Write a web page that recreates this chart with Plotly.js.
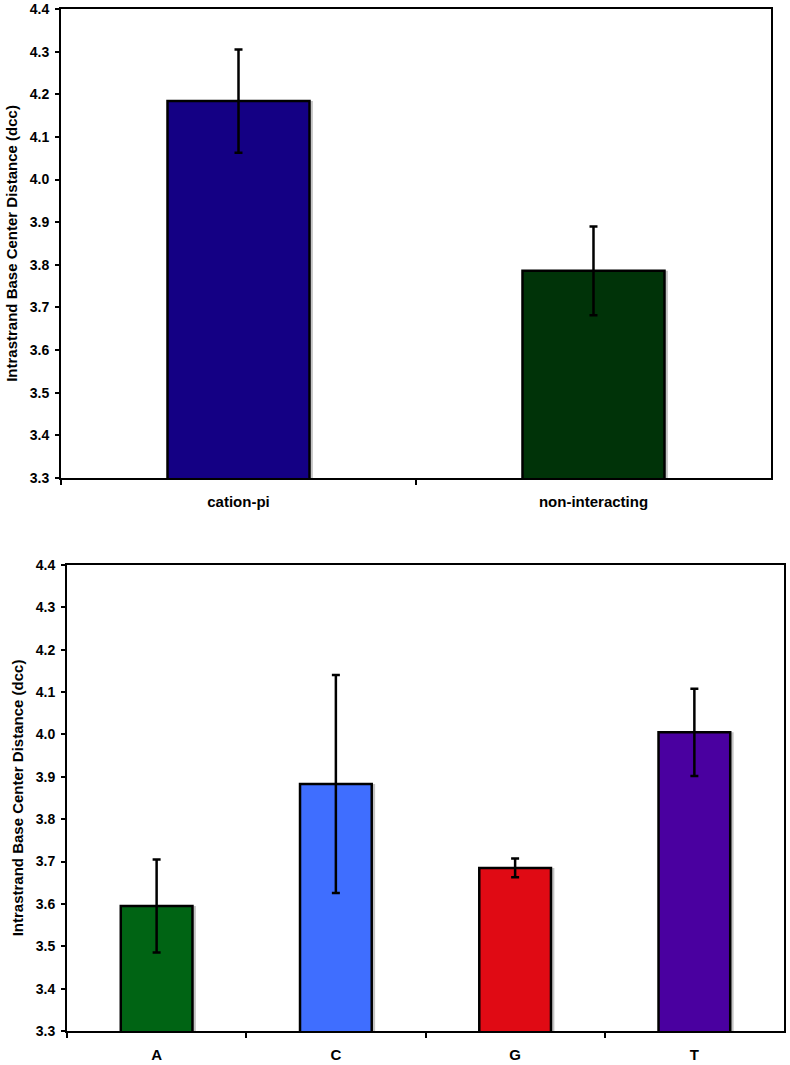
<!DOCTYPE html>
<html>
<head>
<meta charset="utf-8">
<script src="https://cdn.plot.ly/plotly-3.0.1.min.js"></script>
<style>html,body{margin:0;padding:0;background:#fff;}#chart{width:790px;height:1065px;}</style>
</head>
<body>
<div id="chart"></div>
<script>
// Top chart data
const topCategories = ["cation-pi", "non-interacting"];
const topValues = [4.184, 3.786];
const topErrors = [0.121, 0.104];
const topColors = ["#140084", "#003308"];

// Bottom chart data
const bottomCategories = ["A", "C", "G", "T"];
const bottomValues = [3.595, 3.883, 3.685, 4.005];
const bottomErrors = [0.110, 0.257, 0.022, 0.103];
const bottomColors = ["#006414", "#3F6EFF", "#E00A14", "#4A00A0"];

const yTitle = "Intrastrand Base Center Distance (dcc)";
const fam = "Liberation Sans, Arial, sans-serif";
const BW = 0.4;

function shadow(cats, vals, xa, ya, shift) {
  return {type: "bar", x: cats, y: vals, xaxis: xa, yaxis: ya,
    width: BW, offset: -BW/2 + shift,
    marker: {color: "#c4c4c4", line: {width: 0}}, hoverinfo: "skip", showlegend: false};
}
function bars(cats, vals, errs, colors, xa, ya) {
  return {type: "bar", x: cats, y: vals, xaxis: xa, yaxis: ya,
    width: BW, offset: -BW/2,
    marker: {color: colors, line: {color: "#000", width: 2.5}},
    error_y: {type: "data", array: errs, visible: true, color: "#000", thickness: 2.5, width: 4},
    showlegend: false};
}

const data = [
  shadow(topCategories, topValues, "x", "y", 0.0095),
  bars(topCategories, topValues, topErrors, topColors, "x", "y"),
  shadow(bottomCategories, bottomValues, "x2", "y2", 0.019),
  bars(bottomCategories, bottomValues, bottomErrors, bottomColors, "x2", "y2")
];

const tickFont = {family: fam, size: 14, color: "#000", weight: "bold"};
const xCommon = {type: "category", showline: true, linecolor: "#000", linewidth: 2, mirror: true,
  ticks: "outside", tickson: "boundaries", ticklen: 5, tickwidth: 2, tickcolor: "#000",
  showgrid: false, zeroline: false, tickfont: {family: fam, size: 15, color: "#000", weight: "bold"},
  ticklabelstandoff: 9, fixedrange: true};
const yCommon = {range: [3.3, 4.4], dtick: 0.1, tick0: 3.3, tickformat: ".1f",
  showline: true, linecolor: "#000", linewidth: 2, mirror: true,
  ticks: "outside", ticklen: 4, tickwidth: 2, tickcolor: "#000",
  showgrid: false, zeroline: false, tickfont: tickFont, ticklabelstandoff: 3,
  title: {text: yTitle, font: {family: fam, size: 15, color: "#000", weight: "bold"}, standoff: 8},
  fixedrange: true};

const layout = {
  width: 790, height: 1065,
  margin: {l: 61, r: 6, t: 9, b: 34},
  paper_bgcolor: "#fff", plot_bgcolor: "#fff",
  barmode: "overlay",
  showlegend: false,
  xaxis: Object.assign({}, xCommon, {domain: [0, 0.982], anchor: "y"}),
  yaxis: Object.assign({}, yCommon, {domain: [0.5411, 1], anchor: "x"}),
  xaxis2: Object.assign({}, xCommon, {domain: [0.0083, 1], anchor: "y2"}),
  yaxis2: Object.assign({}, yCommon, {domain: [0, 0.456], anchor: "x2"})
};

Plotly.newPlot("chart", data, layout, {displayModeBar: false, staticPlot: true});
</script>
</body>
</html>
